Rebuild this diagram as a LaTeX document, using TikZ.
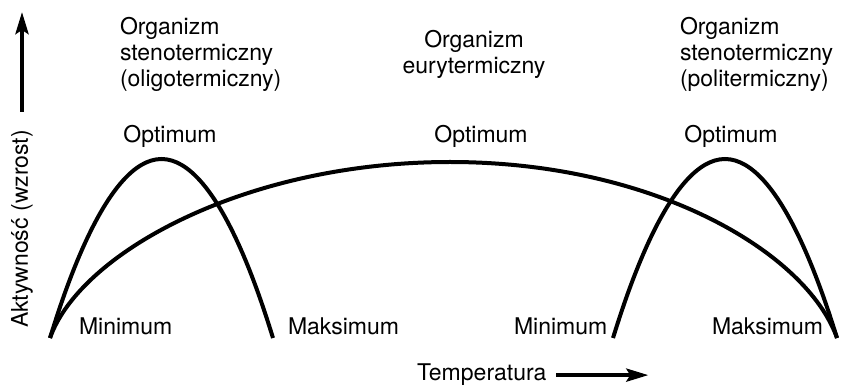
\documentclass[tikz,border=0pt]{standalone}
\usepackage{fontspec}
\setmainfont{TeX Gyre Heros}
\usetikzlibrary{arrows.meta, positioning}
\tikzset{
  every picture/.style={line width=4pt},
  txt/.style={font=\fontsize{23}{26}\selectfont, inner sep=0pt},
  curve/.style={draw=black, line width=4pt},
  axis/.style={-{Stealth[length=22pt, width=13pt, inset=4pt]}, line width=4pt},
}

\begin{document}
\begin{tikzpicture}[x=1pt, y=1pt]
  \useasboundingbox (0,0) rectangle (843,388);
  % axes
  \coordinate (ybot) at (22,276);
  \coordinate (ytop) at (22,376);
  \draw[axis] (ybot) -- (ytop);
  \node[txt, rotate=90, anchor=base] (yname) at (28,159) {Aktywność (wzrost)};
  \node[txt, anchor=base west] (xname) at (415,7) {Temperatura};
  \draw[axis] ([xshift=8pt]xname.east) -- ([xshift=100pt]xname.east);
  % curves
  \draw[curve] (50,50) .. controls (80,135) and (245,226) .. (450,226)
                       .. controls (655,226) and (807,135) .. (837,50);
  \draw[curve] (50,50) parabola bend (161.5,229) (273,50);
  \draw[curve] (613,50) parabola bend (725,229) (837,50);
  % titles
  \node[txt, anchor=north west, align=left] (lefttitle) at (118,373) {Organizm\\stenotermiczny\\(oligotermiczny)};
  \node[txt, anchor=north, align=center] (midtitle) at (474,360) {Organizm\\eurytermiczny};
  \node[txt, anchor=north west, align=left] (righttitle) at (678,373) {Organizm\\stenotermiczny\\(politermiczny)};
  % optimum
  \node[txt, anchor=base] (leftopt) at (170,245) {Optimum};
  \node[txt, anchor=base] (midopt) at (481,245) {Optimum};
  \node[txt, anchor=base] (rightopt) at (731,245) {Optimum};
  % minimum / maksimum
  \node[txt, anchor=base west] (leftmin) at (77,53) {Minimum};
  \node[txt, anchor=base west] (leftmax) at (286,53) {Maksimum};
  \node[txt, anchor=base west] (rightmin) at (512,53) {Minimum};
  \node[txt, anchor=base west] (rightmax) at (710,53) {Maksimum};
\end{tikzpicture}
\end{document}
